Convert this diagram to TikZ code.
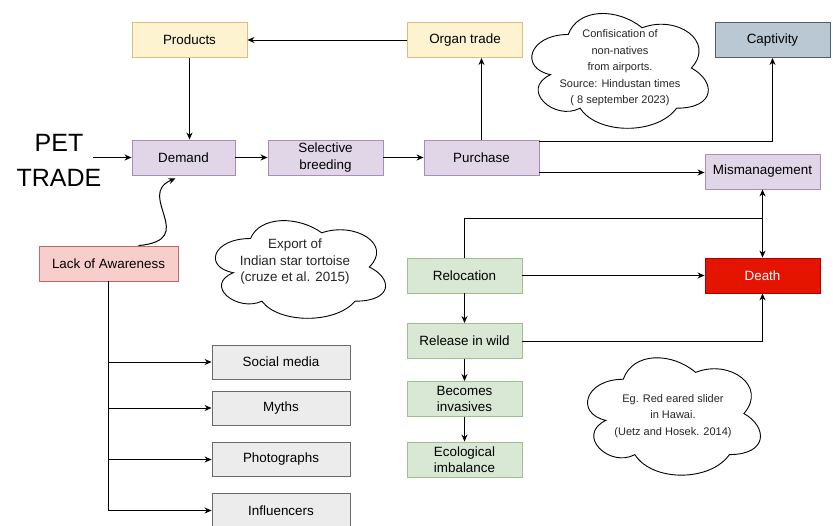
\documentclass[tikz,border=0pt]{standalone}
\usepackage{fontspec}
\setmainfont{Liberation Sans}
\usetikzlibrary{arrows.meta,calc}
\definecolor{yfill}{HTML}{FDF3D0}
\definecolor{ydraw}{HTML}{D6C07A}
\definecolor{pfill}{HTML}{E1D6E8}
\definecolor{pdraw}{HTML}{A88FBA}
\definecolor{gfill}{HTML}{D8E8D5}
\definecolor{gdraw}{HTML}{9DBF8C}
\definecolor{kfill}{HTML}{ECECEC}
\definecolor{kdraw}{HTML}{6A6A6A}
\definecolor{bfill}{HTML}{BAC8D3}
\definecolor{bdraw}{HTML}{4A6272}
\definecolor{rfill}{HTML}{F8CECC}
\definecolor{rdraw}{HTML}{C06A66}
\definecolor{dfill}{HTML}{E51400}
\definecolor{ddraw}{HTML}{B20000}
\newcommand\drawiocloud[4]{%
  \begin{scope}[shift={(#1,#2)}, x=#3pt, y=-#4pt]
    \draw[line width=0.9pt, fill=white] (0.25,0.25)
      .. controls (0.05,0.25) and (0,0.5) .. (0.16,0.55)
      .. controls (0,0.66) and (0.18,0.9) .. (0.31,0.8)
      .. controls (0.4,1) and (0.7,1) .. (0.8,0.8)
      .. controls (1,0.8) and (1,0.6) .. (0.875,0.5)
      .. controls (1,0.3) and (0.8,0.1) .. (0.625,0.2)
      .. controls (0.5,0.05) and (0.3,0.05) .. (0.25,0.25) -- cycle;
  \end{scope}}
\begin{document}
\begin{tikzpicture}[x=1pt,y=-1pt,
  base/.style={draw, line width=0.9pt, minimum width=115pt, minimum height=35pt,
    inner sep=1pt, align=center, font=\fontsize{13.4}{16.5}\selectfont},
  ybox/.style={base, fill=yfill, draw=ydraw},
  pbox/.style={base, fill=pfill, draw=pdraw},
  gbox/.style={base, fill=gfill, draw=gdraw},
  kbox/.style={base, fill=kfill, draw=kdraw, minimum width=138pt, minimum height=34pt},
  bbox/.style={base, fill=bfill, draw=bdraw},
  rbox/.style={base, fill=rfill, draw=rdraw, minimum width=139pt},
  dbox/.style={base, fill=dfill, draw=ddraw, text=white},
  cloudtext/.style={align=center, text=black!85, font=\fontsize{11}{16.5}\selectfont},
  arr/.style={-{Stealth[length=7pt,width=6pt]}, line width=1pt},
  ln/.style={line width=1pt}
]
\useasboundingbox (0,0) rectangle (833,525);
\fill[white] (0,0) rectangle (833,525);

% clouds (draw.io cloud outline)
\drawiocloud{519}{1}{197}{134}
\node[cloudtext] (t1) at (620,68) {Confisication of\\non-natives\\from airports.\\Source: Hindustan times\\( 8 september 2023)};
\drawiocloud{203}{210}{190}{114}
\node[cloudtext, font=\fontsize{13.4}{16.5}\selectfont] (t2) at (295,262) {Export of\\Indian star tortoise\\(cruze et al. 2015)};
\drawiocloud{575}{345}{193}{137}
\node[cloudtext] (t3) at (673,416) {Eg. Red eared slider\\in Hawai.\\(Uetz and Hosek. 2014)};

% boxes
\node[ybox] (prod) at (189.5,40) {Products};
\node[ybox] (org) at (465,40) {Organ trade};
\node[bbox] (cap) at (772.5,40) {Captivity};
\node[pbox, minimum width=103pt] (dem) at (183.5,157.5) {Demand};
\node[pbox] (sel) at (325.5,157.5) {Selective\\breeding};
\node[pbox] (pur) at (481.5,157.5) {Purchase};
\node[pbox] (mis) at (762.5,171.5) {Mismanagement};
\node[rbox] (loa) at (108.5,263.5) {Lack of Awareness};
\node[gbox] (rel) at (464.5,275.5) {Relocation};
\node[gbox] (rw) at (464.5,341) {Release in wild};
\node[gbox] (inv) at (464.5,399) {Becomes\\invasives};
\node[gbox] (eco) at (464.5,459.5) {Ecological\\imbalance};
\node[dbox] (dea) at (762.5,275.5) {Death};
\node[kbox] (sm) at (281,362) {Social media};
\node[kbox] (my) at (281,408) {Myths};
\node[kbox] (ph) at (281,459.5) {Photographs};
\node[kbox] (inf) at (281,510.5) {Influencers};

\node[align=center, font=\fontsize{25}{35}\selectfont] (pet) at (59,160) {PET\\TRADE};
\coordinate (petout) at (93,157.5);
\coordinate (j) at (762.5,218);

% connectors
\draw[arr] (org) -- (prod);
\draw[arr] (prod.south) -- (prod.south |- dem.north);
\draw[arr] (petout) -- (dem);
\draw[arr] (dem) -- (sel);
\draw[arr] (sel) -- (pur);
\draw[arr] (pur.north) -- (pur.north |- org.south);
\draw[arr] ([yshift=-2pt]pur.north east) -| (cap.south);
\draw[arr] ([yshift=-15pt]pur.east) -- ([yshift=-15pt]pur.east -| mis.west);
\draw[ln] (rel.north) |- (j);
\draw[arr] (j) -- (mis.south);
\draw[arr] (j) -- (dea.north);
\draw[arr] (rel) -- (dea);
\draw[arr] (rel) -- (rw);
\draw[arr] (rw.east) -| (dea.south);
\draw[arr] (rw) -- (inv);
\draw[arr] (inv) -- (eco);
\draw[arr] ([xshift=30pt]loa.north) .. controls (200,240) and (135,195) .. ([xshift=-8pt,yshift=-3pt]dem.south);
\draw[ln] (loa.south) -- (loa.south |- inf.west);
\draw[arr] (loa.south |- sm.west) -- (sm.west);
\draw[arr] (loa.south |- my.west) -- (my.west);
\draw[arr] (loa.south |- ph.west) -- (ph.west);
\draw[arr] (loa.south |- inf.west) -- (inf.west);
\end{tikzpicture}
\end{document}
